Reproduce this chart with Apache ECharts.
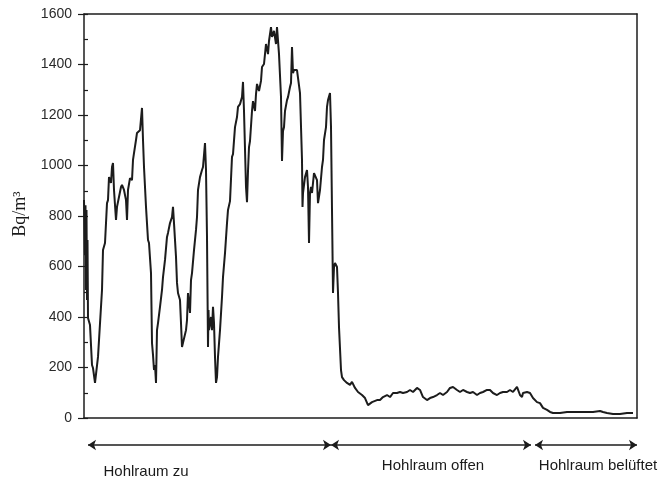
<!DOCTYPE html>
<html>
<head>
<meta charset="utf-8">
<script src="https://cdn.jsdelivr.net/npm/echarts@6/dist/echarts.min.js"></script>
<style>
html,body{margin:0;padding:0;background:#fff;}
#c{width:671px;height:482px;}
</style>
</head>
<body>
<div id="c"></div>
<script>
// Time index (arbitrary units along the measurement period)
const time = [0,1,1.5,2,2.5,3,3.5,4,6,8,9,11,14,18,19,21,23,24,25,27,28,29,30,32,33,35,37,38,40,42,43,44,46,48,49,50,52,53,54,56,58,59,60,62,64,65,67,68,69,70,71,72,73,74,76,78,79,81,83,84,86,88,89,90,92,93,94,96,97,98,99,102,103,104,106,107,108,110,112,113,114,116,118,119,121,122,123,124,124.5,125,127,128,129,130,131,132,133,134,136,138,139,141,143,144,146,148,149,151,153,154,156,158,159,160,162,163,164,165,166,168,169,171,172,173,175,177,178,180,182,184,185,187,188,190,192,193,195,197,198,199,200,201,203,204,206,207,208,209,210,213,216,218,218.5,219,221,223,224,225,226,227,228,230,231,233,234,236,238,239,240,242,243,244,246,247,248,249,250,251,253,254,255,257,258,260,263,266,268,271,274,278,281,284,288,289,293,296,299,303,306,309,313,316,319,323,326,329,333,336,339,343,346,349,353,356,359,363,366,369,373,376,379,383,386,389,393,396,399,403,406,409,413,416,419,423,426,429,433,436,438,439,443,446,449,453,456,459,463,466,469,473,476,483,489,496,503,509,516,519,523,529,536,543,549,552];
// Radon concentration, Bq/m³
const radon = [863,645,843,507,824,467,705,396,368,210,198,139,242,507,665,693,851,863,954,931,994,1010,903,784,836,836,915,923,903,863,784,903,950,942,1022,1049,1101,1129,1133,1140,1228,1101,994,836,705,693,574,297,250,190,210,139,348,376,440,507,558,626,717,733,772,796,836,772,638,535,495,467,376,281,281,348,388,495,416,546,574,665,745,796,903,954,982,994,1089,982,717,281,428,348,400,348,440,376,242,139,162,242,348,479,558,653,772,824,859,1034,1045,1152,1192,1232,1243,1271,1331,1216,915,855,978,1073,1097,1216,1255,1216,1283,1323,1295,1335,1390,1402,1481,1441,1493,1548,1509,1533,1481,1548,1441,1271,1018,1137,1152,1216,1259,1271,1311,1327,1469,1366,1378,1378,1287,1022,836,891,954,982,915,693,891,915,891,970,970,942,851,903,994,1022,1101,1152,1232,1259,1287,1152,824,495,598,614,598,495,360,190,162,150,139,131,143,119,103,91,79,51,63,63,71,71,83,91,83,99,99,103,99,103,111,103,119,111,83,71,79,83,91,99,91,103,119,123,111,103,111,103,99,103,91,99,103,111,111,99,91,99,103,103,111,103,123,91,83,99,103,99,79,63,59,40,32,24,20,20,20,24,24,24,24,24,28,24,20,16,16,20,20];
// Y axis ticks
const yTicks = [0,200,400,600,800,1000,1200,1400,1600];
// Measurement phases (start, end on time index) and their labels
const phaseStart = [4, 247, 451];
const phaseEnd = [247, 447, 553];
const phaseLabels = ['Hohlraum zu', 'Hohlraum offen', 'Hohlraum belüftet'];
const yName = 'Bq/m³';

const xMax = 553;
const lineData = time.map((t, i) => [t, radon[i]]);
const ink = '#1c1c1c';

const chart = echarts.init(document.getElementById('c'), null, {renderer: 'canvas'});
const option = {
  animation: false,
  backgroundColor: '#fff',
  grid: [
    {left: 84, right: 34, top: 14, bottom: 64},
    {left: 84, right: 34, top: 440, height: 10}
  ],
  xAxis: [
    {gridIndex: 0, type: 'value', min: 0, max: xMax, position: 'bottom',
     axisLine: {show: true, onZero: false, lineStyle: {color: ink, width: 1.5}},
     axisTick: {show: false}, axisLabel: {show: false}, splitLine: {show: false}},
    {gridIndex: 0, type: 'value', min: 0, max: xMax, position: 'top',
     axisLine: {show: true, onZero: false, lineStyle: {color: ink, width: 1.5}},
     axisTick: {show: false}, axisLabel: {show: false}, splitLine: {show: false}},
    {gridIndex: 1, type: 'value', min: 0, max: xMax, show: false}
  ],
  yAxis: [
    {gridIndex: 0, type: 'value', min: yTicks[0], max: yTicks[yTicks.length - 1], interval: 200, position: 'left',
     axisLine: {show: true, onZero: false, lineStyle: {color: ink, width: 1.5}},
     axisTick: {show: true, inside: false, length: 6, lineStyle: {color: ink, width: 1.2}},
     axisLabel: {show: true, margin: 12, color: '#2a2a2a', fontFamily: 'Liberation Sans, Arial, sans-serif', fontSize: 14,
                 formatter: v => String(v)},
     splitLine: {show: false}},
    {gridIndex: 0, type: 'value', min: 0, max: 1600, interval: 100, position: 'left',
     axisLine: {show: false}, axisLabel: {show: false}, splitLine: {show: false},
     axisTick: {show: true, inside: true, length: 4, lineStyle: {color: ink, width: 1.2}}},
    {gridIndex: 0, type: 'value', min: 0, max: 1600, position: 'right',
     axisLine: {show: true, onZero: false, lineStyle: {color: ink, width: 1.5}},
     axisTick: {show: false}, axisLabel: {show: false}, splitLine: {show: false}},
    {gridIndex: 1, type: 'value', min: 0, max: 1, show: false}
  ],
  series: [
    {type: 'line', xAxisIndex: 0, yAxisIndex: 0, data: lineData, showSymbol: false, symbol: 'none',
     lineStyle: {color: ink, width: 2}, silent: true, clip: false},
    {type: 'line', xAxisIndex: 2, yAxisIndex: 3, data: [[0, 0.5]], symbol: 'none', showSymbol: false,
     lineStyle: {opacity: 0}, silent: true,
     markLine: {
       silent: true, symbol: ['arrow', 'arrow'], symbolSize: 8, label: {show: false},
       lineStyle: {color: ink, width: 1.5, type: 'solid'},
       data: phaseStart.map((s, i) => [{coord: [s, 0.5]}, {coord: [phaseEnd[i], 0.5]}])
     }}
  ],
  graphic: [
    {type: 'text', x: 20, y: 214, rotation: Math.PI / 2,
     style: {text: yName, fill: '#1a1a1a', font: '18px "Liberation Serif", "Times New Roman", serif', textAlign: 'center', textVerticalAlign: 'middle'}},
    {type: 'text', x: 146, y: 472,
     style: {text: phaseLabels[0], fill: '#1a1a1a', font: '15px "Liberation Sans", Arial, sans-serif', textAlign: 'center', textVerticalAlign: 'middle'}},
    {type: 'text', x: 433, y: 466,
     style: {text: phaseLabels[1], fill: '#1a1a1a', font: '15px "Liberation Sans", Arial, sans-serif', textAlign: 'center', textVerticalAlign: 'middle'}},
    {type: 'text', x: 598, y: 466,
     style: {text: phaseLabels[2], fill: '#1a1a1a', font: '15px "Liberation Sans", Arial, sans-serif', textAlign: 'center', textVerticalAlign: 'middle'}}
  ]
};
chart.setOption(option);
</script>
</body>
</html>
